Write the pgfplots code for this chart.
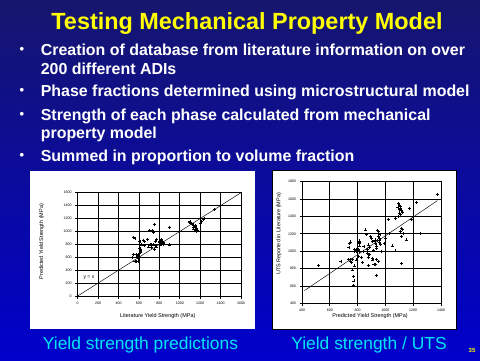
\documentclass[border=0pt]{standalone}
\usepackage{fontspec}
\setmainfont{Liberation Sans}
\usepackage{pgfplots}
\pgfplotsset{compat=1.18}
\definecolor{titleyellow}{RGB}{255,255,0}
\definecolor{capcyan}{RGB}{0,230,245}
\definecolor{bgtop}{RGB}{22,22,110}
\definecolor{bgbot}{RGB}{0,0,204}
\pgfplotsset{
  slideaxis/.style={
    scale only axis, anchor=south west,
    grid=major, major grid style={black, line width=0.85bp},
    axis line style={black, line width=0.85bp},
    tick align=outside, tick pos=left, major tick length=2.5bp,
    tick style={black, line width=0.85bp},
    ticklabel style={font=\fontsize{3.6}{4}\selectfont},
    /pgf/number format/assume math mode=true,
    /pgf/number format/1000 sep={},
    label style={font=\fontsize{5.5}{6}\selectfont},
    axis background/.style={fill=white},
    clip=true,
  },
  pts/.style={only marks, mark=+, mark size=1.5bp, black, mark options={line width=0.7bp}},
}
\newcommand{\blt}[1]{\node[text=white, inner sep=0pt, font=\fontsize{13}{14}\selectfont\bfseries] at (22,#1+5) {\textbullet};}
\begin{document}
\begin{tikzpicture}[x=1bp,y=1bp]
\useasboundingbox (0,0) rectangle (480,360);
\shade[top color=bgtop, bottom color=bgbot] (0,0) rectangle (480,360);
% title
\node[anchor=base, text=titleyellow, font=\fontsize{23.5}{26}\selectfont\bfseries] at (247,330.7) {Testing Mechanical Property Model};
% bullets
\blt{305}
\blt{263.3}
\blt{240}
\blt{198.3}
\begin{scope}[every node/.style={text=white, font=\fontsize{16}{18}\selectfont\bfseries}]
\node[anchor=base west] at (37.3,305) {Creation of database from literature information on over};
\node[anchor=base west] at (37.3,286) {200 different ADIs};
\node[anchor=base west] at (37.3,263.3) {Phase fractions determined using microstructural model};
\node[anchor=base west] at (37.3,240) {Strength of each phase calculated from mechanical};
\node[anchor=base west] at (37.3,221.7) {property model};
\node[anchor=base west] at (37.3,198.3) {Summed in proportion to volume fraction};
\end{scope}
% white panels
\fill[white] (30,31) rectangle (255,189);
\fill[white, draw=black, line width=0.8bp] (272,31) rectangle (456,190);
% captions
\node[anchor=base, text=capcyan, font=\fontsize{17.5}{20}\selectfont] at (140.5,10.7) {Yield strength predictions};
\node[anchor=base, text=capcyan, font=\fontsize{17.5}{20}\selectfont] at (369,10.7) {Yield strength / UTS};
\node[text=titleyellow, font=\fontsize{6}{7}\selectfont\bfseries] at (472,10) {35};

% left chart
\begin{axis}[slideaxis, at={(77.7bp,64bp)}, width=163.3bp, height=103.3bp,
  xmin=0, xmax=1600, ymin=0, ymax=1600,
  xtick={0,200,...,1600}, ytick={0,200,...,1600},
  xlabel={Literature Yield Strength (MPa)},
  ylabel={Predicted Yield Strength (MPa)},
  xlabel style={at={(axis description cs:0.49,-0.194)}, anchor=center},
  ylabel style={at={(axis description cs:-0.22,0.526)}, anchor=center},
]
\addplot[black, line width=0.45bp] coordinates {(0,0) (1600,1600)};
\addplot[pts] coordinates {
(1339,1342) (1238,1203) (1228,1190) (1215,1150) (1205,1130) (1100,1150)
(1094,1135) (1116,1124) (1130,1100) (1150,1075) (1130,1070) (1150,1022)
(1159,996) (1163,1050) (1135,1040) (1170,1010) (1150,1090) (1120,1110)
(898,1058) (895,790) (800,800) (810,820) (820,840) (830,850) (815,860)
(805,830) (825,810) (840,800) (835,830) (815,790) (800,840) (820,870)
(830,820) (812,812) (845,820) (748,1110) (741,980) (702,1012) (774,877)
(760,840) (741,790) (725,755) (760,780) (709,790) (690,760) (643,867)
(652,841) (610,841) (627,790) (610,740) (545,908) (561,888) (620,712)
(615,680) (590,640) (600,620) (580,600) (595,580) (605,600) (585,620)
(570,640) (561,542) (570,530) (594,532) (545,640) (536,600) (650,780)
(755,725) (770,760) (720,800) (680,880) (730,1010)
};
\node[font=\fontsize{5}{6}\selectfont, anchor=center] at (axis cs:110,290) {y = x};
\end{axis}

% right chart
\begin{axis}[slideaxis, at={(302bp,56.7bp)}, width=139bp, height=121.6bp,
  xmin=400, xmax=1400, ymin=400, ymax=1800,
  xtick={400,600,...,1400}, ytick={400,600,...,1800},
  xlabel={Predicted Yield Strength (MPa)},
  ylabel={UTS Reported in Literature (MPa)},
  xlabel style={at={(axis description cs:0.49,-0.102)}, anchor=center},
  ylabel style={at={(axis description cs:-0.165,0.57)}, anchor=center},
]
\addplot[black, line width=0.45bp] coordinates {(417,546) (1374,1582)};
\addplot[pts] coordinates {
(1376,1655) (1223,1563) (1091,1552) (1098,1530) (1105,1520) (1090,1505)
(1110,1495) (1100,1480) (1115,1470) (1120,1450) (1175,1490) (1187,1367)
(1020,1367) (1075,1380) (1090,1400) (1110,1420) (1100,1440) (1115,1265)
(1120,1250) (1105,1225) (1130,1205) (1118,1168) (1154,1130) (1250,1200)
(1113,860) (1053,1060) (1075,1003) (992,1091) (940,1240) (952,1230)
(950,1210) (960,1190) (948,1170) (955,1150) (960,1130) (945,1120)
(955,1100) (962,1080) (970,995) (938,1033) (925,1110) (930,1090)
(935,1060) (915,1010) (905,1110) (925,1130) (855,1245) (895,1168)
(900,1150) (866,1190) (878,1072) (883,1045) (845,1050) (812,1118)
(815,1100) (812,1085) (812,1060) (747,1106) (742,1090) (737,1045)
(800,1015) (790,1000) (795,1010) (785,1005) (805,1020) (790,1025)
(800,995) (780,1020) (810,1000) (775,1000) (840,1000) (826,930)
(806,940) (790,900) (765,905) (757,870) (750,880) (762,784)
(775,830) (833,870) (879,834) (905,920) (910,900) (937,910)
(948,880) (885,960) (875,930) (917,850) (930,850) (868,980)
(878,960) (936,722) (771,707) (774,657) (767,607) (520,841)
(680,887) (745,905) (733,905) (870,1020) (1000,1150) (1030,1200)
};
\end{axis}
\end{tikzpicture}
\end{document}
